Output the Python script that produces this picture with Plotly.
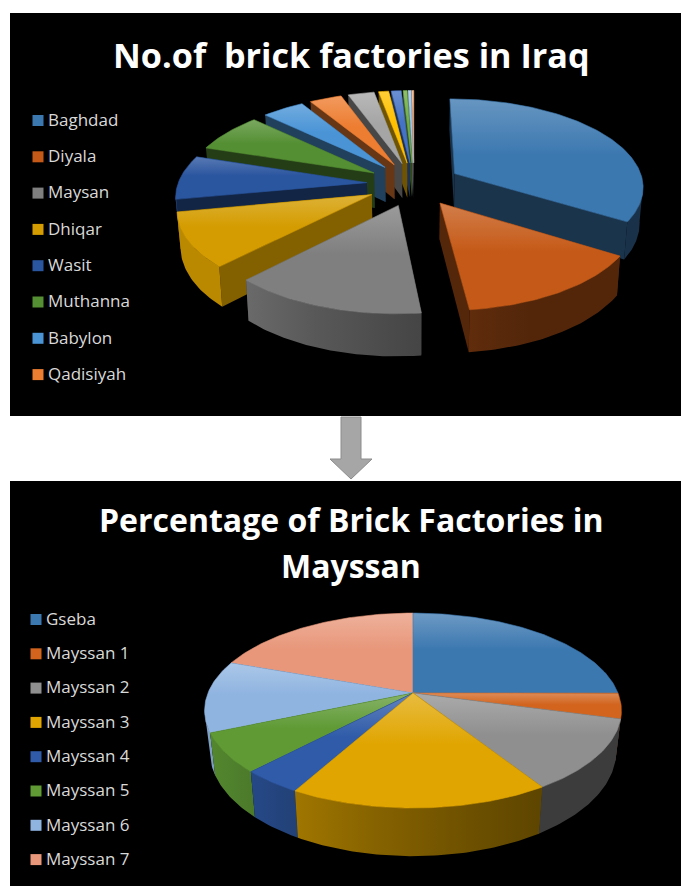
import numpy as np
import plotly.graph_objects as go

# Brick factories per governorate; the legend lists the first eight, the small tail is unnamed
iraq_names = ["Baghdad", "Diyala", "Maysan", "Dhiqar", "Wasit", "Muthanna", "Babylon", "Qadisiyah"]
iraq_values = [33.9, 14.3, 14.0, 9.8, 8.0, 7.1, 4.2, 3.2]
iraq_tail_values = [2.6, 1.0, 1.0, 0.4, 0.3, 0.2]
iraq_colors = ["#3c78b0", "#c55a18", "#7f7f7f", "#d49c00", "#2a559f", "#548f33",
               "#4a94d6", "#ed7d31", "#a5a5a5", "#ffc000", "#4472c4", "#70ad47",
               "#9dc3e6", "#f4b183"]

maysan_names = ["Gseba", "Mayssan 1", "Mayssan 2", "Mayssan 3", "Mayssan 4", "Mayssan 5", "Mayssan 6", "Mayssan 7"]
maysan_values = [25.0, 4.2, 11.8, 17.0, 4.0, 6.5, 11.9, 19.5]
maysan_colors = ["#3c78b0", "#d2641e", "#8f8f8f", "#e0a500", "#2f5ba8", "#5f9a35", "#8fb4e0", "#e8977a"]

WIDTH, HEIGHT = 681, 886


def to_rgb(c):
    return np.array([int(c[i:i + 2], 16) for i in (1, 3, 5)], dtype=float)


def css(rgb):
    return "rgb(%d,%d,%d)" % tuple(np.clip(np.round(rgb), 0, 255))


def darken(c, f):
    return css(to_rgb(c) * f)


def lighten(c, f):
    base = to_rgb(c)
    return css(base + (255 - base) * f)


def add_poly(fig, xs, ys, gradient=None, solid=None, edge=None):
    kw = {}
    if gradient is not None:
        kw["fillgradient"] = gradient
    else:
        kw["fillcolor"] = solid
    line = dict(width=0.6, color=edge) if edge else dict(width=0)
    fig.add_trace(go.Scatter(x=xs, y=ys, mode="lines", fill="toself", line=line,
                             hoverinfo="skip", showlegend=False, **kw))


def draw_pie(fig, values, colors, cx, cy, R, Ry, k, depth, shrink, explode, lift, radial_f, radial_over=None):
    """Extruded pie in a simple perspective: the disc is tilted and the far side shrinks."""
    radial_over = radial_over or {}

    def project(u, v, z):
        s = 1.0 / (1.0 + k * v)
        return cx + R * u * s * (1 - shrink * z), cy - Ry * v * s + depth * s * z

    total = float(sum(values))
    edges = np.cumsum([0.0] + list(values)) / total * 2 * np.pi
    slices = []
    for i, col in enumerate(colors):
        a0, a1 = edges[i], edges[i + 1]
        mid = (a0 + a1) / 2
        slices.append((explode * np.sin(mid), explode * np.cos(mid), a0, a1, col, i))

    # Painter's order: the slices further back go first
    slices.sort(key=lambda t: -(t[1] + 0.6 * np.cos((t[2] + t[3]) / 2)))

    for ou, ov, a0, a1, col, idx in slices:
        ang = np.linspace(a0, a1, max(3, int((a1 - a0) * 60)))
        rim_u, rim_v = ou + np.sin(ang), ov + np.cos(ang)

        walls = []
        for a in (a0, a1):
            eu, ev = ou + np.sin(a), ov + np.cos(a)
            ts = np.array([0.0, 1.0])
            wu, wv = ou + ts * (eu - ou), ov + ts * (ev - ov)
            tx, ty = project(wu, wv, 0)
            bx, by = project(wu, wv, 1)
            walls.append((float(np.mean(wv)), np.r_[tx, bx[::-1], tx[0]], np.r_[ty, by[::-1], ty[0]]))
        for _, xs, ys in sorted(walls, key=lambda w: -w[0]):
            add_poly(fig, xs, ys, solid=darken(col, radial_over.get(idx, radial_f)))

        # Only the part of the rim that faces the viewer gets an outer wall
        front = np.cos(ang) < -k
        if front.sum() >= 2:
            tx, ty = project(rim_u[front], rim_v[front], 0)
            bx, by = project(rim_u[front], rim_v[front], 1)
            xs, ys = np.r_[tx, bx[::-1], tx[0]], np.r_[ty, by[::-1], ty[0]]
            lo, hi = xs.min(), xs.max()
            scale = []
            for t in np.linspace(0, 1, 6):
                rel = (lo + (hi - lo) * t - cx) / R
                f = np.interp(rel, [-1, -0.6, 0, 0.6, 1], [0.88, 0.72, 0.55, 0.42, 0.42])
                scale.append([float(t), darken(col, f)])
            add_poly(fig, xs, ys, gradient=dict(type="horizontal", colorscale=scale))

        px, py = project(np.r_[ou, rim_u, ou], np.r_[ov, rim_v, ov], 0)
        add_poly(fig, px, py, edge=col, gradient=dict(
            type="vertical",
            colorscale=[[0, col], [0.55, col], [1, lighten(col, lift)]],
        ))


def add_legend(fig, names, colors, x, y0, step, text_x):
    ys = [y0 + i * step for i in range(len(names))]
    fig.add_trace(go.Scatter(x=[x] * len(names), y=ys, mode="markers", hoverinfo="skip", showlegend=False,
                             marker=dict(symbol="square", size=11, color=colors[:len(names)], line=dict(width=0))))
    fig.add_trace(go.Scatter(x=[text_x] * len(names), y=[y + 1 for y in ys], mode="text", text=names,
                             textposition="middle right", hoverinfo="skip", showlegend=False,
                             textfont=dict(family="Open Sans", size=17, color="#d9d9d9")))


fig = go.Figure()

# Dark chart panels and the arrow between them
panel_shapes = [
    dict(type="rect", x0=10, x1=WIDTH, y0=13, y1=416, fillcolor="#000000", line_width=0, layer="below"),
    dict(type="rect", x0=10, x1=WIDTH, y0=481, y1=HEIGHT, fillcolor="#000000", line_width=0, layer="below"),
    dict(type="path", path="M341,417 L361,417 L361,459 L372,459 L351,479 L330,459 L341,459 Z",
         fillcolor="#a6a6a6", line=dict(color="#8c8c8c", width=1), layer="below"),
]

draw_pie(fig, iraq_values + iraq_tail_values, iraq_colors,
         cx=414, cy=184, R=189, Ry=87.4, k=0.135, depth=35.5, shrink=0.015,
         explode=0.25, lift=0.22, radial_f=0.43, radial_over={3: 0.62})
draw_pie(fig, maysan_values, maysan_colors,
         cx=413, cy=693, R=205, Ry=94.3, k=0.18, depth=39.5, shrink=0.025,
         explode=0.0, lift=0.25, radial_f=0.45)

add_legend(fig, iraq_names, iraq_colors, 38, 120.5, 36.3, 48)
add_legend(fig, maysan_names, maysan_colors, 36, 619.5, 34.3, 46)

titles = [("No.of\u00a0\u00a0brick factories in Iraq", 351, 54.5, 34.2),
          ("Percentage of Brick Factories in", 351, 519.5, 32),
          ("Mayssan", 351, 565.5, 32)]
for text, tx, ty, size in titles:
    fig.add_annotation(x=tx, y=ty, text=text, showarrow=False, xanchor="center", yanchor="middle",
                       font=dict(family="Open Sans", size=size, color="#ffffff", weight="bold"))

fig.update_layout(
    width=WIDTH, height=HEIGHT, margin=dict(l=0, r=0, t=0, b=0),
    paper_bgcolor="#ffffff", plot_bgcolor="#ffffff", shapes=panel_shapes, showlegend=False,
    xaxis=dict(range=[0, WIDTH], visible=False, fixedrange=True),
    yaxis=dict(range=[HEIGHT, 0], visible=False, fixedrange=True),
)

fig.write_html("out.html", config={"displayModeBar": False})
